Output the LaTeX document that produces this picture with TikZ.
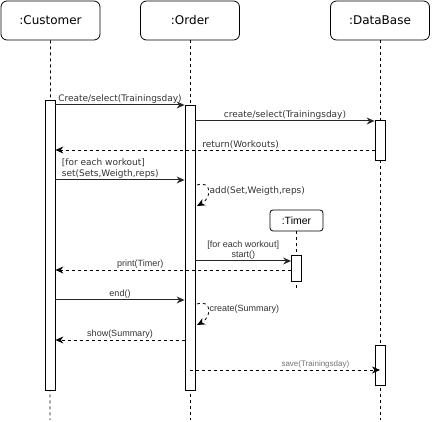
\documentclass[tikz,border=0pt]{standalone}
\usepackage{fontspec}
\newfontfamily\djv{DejaVu Sans}
\newfontfamily\lib{Liberation Sans}
\usetikzlibrary{arrows.meta,calc}
\definecolor{txt}{HTML}{333333}
\tikzset{
  >={Stealth[length=8pt,width=7pt]},
  obj/.style={draw,rounded corners=6pt,minimum width=99pt,minimum height=39pt,font=\djv\fontsize{12}{14}\selectfont},
  act/.style={draw,fill=white,minimum width=10pt,inner sep=0pt},
  life/.style={dash pattern=on 3pt off 3pt},
  msg/.style={->,draw=black!85,line width=1pt},
  ret/.style={->,dash pattern=on 3pt off 3pt,line width=0.8pt},
  wd/.style={above=0pt,inner sep=1pt,text=txt,font=\djv\fontsize{9}{11}\selectfont},
  wa/.style={above=0pt,inner sep=1pt,text=txt,font=\lib\fontsize{9}{10.5}\selectfont},
  every picture/.style={line width=0.8pt},
}
\begin{document}
\begin{tikzpicture}[x=1pt,y=-1pt]
\useasboundingbox (0,0) rectangle (432,422);
% objects and lifelines
\node[obj] (c) at (50.5,20.5){:Customer}; \node[obj] (o) at (190,20.5){:Order}; \node[obj] (db) at (380,20.5){:DataBase};
\node[draw,rounded corners=3pt,minimum width=53pt,minimum height=21pt,inner sep=0pt,font=\lib\fontsize{10.5}{12}\selectfont] (t) at (296.5,220.5){:Timer};
\coordinate (cE) at (50,420); \coordinate (oE) at (190,420); \coordinate (dbE) at (380,420); \coordinate (tE) at (296.5,288);
\draw[life] (c)--(cE); \draw[life] (o)--(oE); \draw[life] (db)--(dbE); \draw[life] (t)--(tE);
% activations
\node[act,minimum height=290pt] (cA) at (50,245){}; \node[act,minimum height=285pt] (oA) at (190,247.5){};
\node[act,minimum height=40pt] (db1) at (380,140){}; \node[act,minimum height=40pt] (db2) at (380,365){};
\node[act,minimum height=26pt] (tA) at (296.5,268){};
% message levels
\coordinate (y1) at (0,105); \coordinate (y2) at (0,121); \coordinate (y3) at (0,150); \coordinate (y4) at (0,180);
\coordinate (y6) at (0,261); \coordinate (y7) at (0,270); \coordinate (y8) at (0,300); \coordinate (y10) at (0,340);
\coordinate (y11) at (0,370); \coordinate (s1) at (197,185); \coordinate (s2) at (197,206);
\coordinate (s3) at (197,304); \coordinate (s4) at (197,325);
% messages
\draw[msg] (cA.east|-y1)--node[wd]{Create/select(Trainingsday)}(oA.west|-y1);
\draw[msg] (oA.east|-y2)--node[wd]{create/select(Trainingsday)}(db1.west|-y2);
\draw[ret] (db1.west|-y3)--node[wd,pos=0.42]{return(Workouts)}(cA.east|-y3);
\draw[msg] (cA.east|-y4)--node[wd,align=left,anchor=south west,at start,xshift=5pt]{[for each workout]\\set(Sets,Weigth,reps)}(oA.west|-y4);
\draw[ret] (s1) .. controls +(15,-5) and +(15,-8) .. node[right=0pt,fill=white,inner sep=1pt,text=txt,font=\djv\fontsize{9}{11}\selectfont]{add(Set,Weigth,reps)} (s2);
\draw[msg] (oA.east|-y6)--node[wa,align=center]{[for each workout]\\start()}(tA.west|-y6);
\draw[ret] (tA.west|-y7)--node[wa,pos=0.64]{print(Timer)}(cA.east|-y7);
\draw[msg] (cA.east|-y8)--node[wa]{end()}(oA.west|-y8);
\draw[ret] (s3) .. controls +(15,-5) and +(15,-8) .. node[right=0pt,fill=white,inner sep=1pt,text=txt,font=\lib\fontsize{9}{10.5}\selectfont]{create(Summary)} (s4);
\draw[ret] (oA.west|-y10)--node[wa]{show(Summary)}(cA.east|-y10);
\draw[ret] (oA|-y11)--node[wa,pos=0.66,text=black!55,font=\lib\fontsize{8}{9}\selectfont]{save(Trainingsday)}(db2|-y11);
\end{tikzpicture}
\end{document}
